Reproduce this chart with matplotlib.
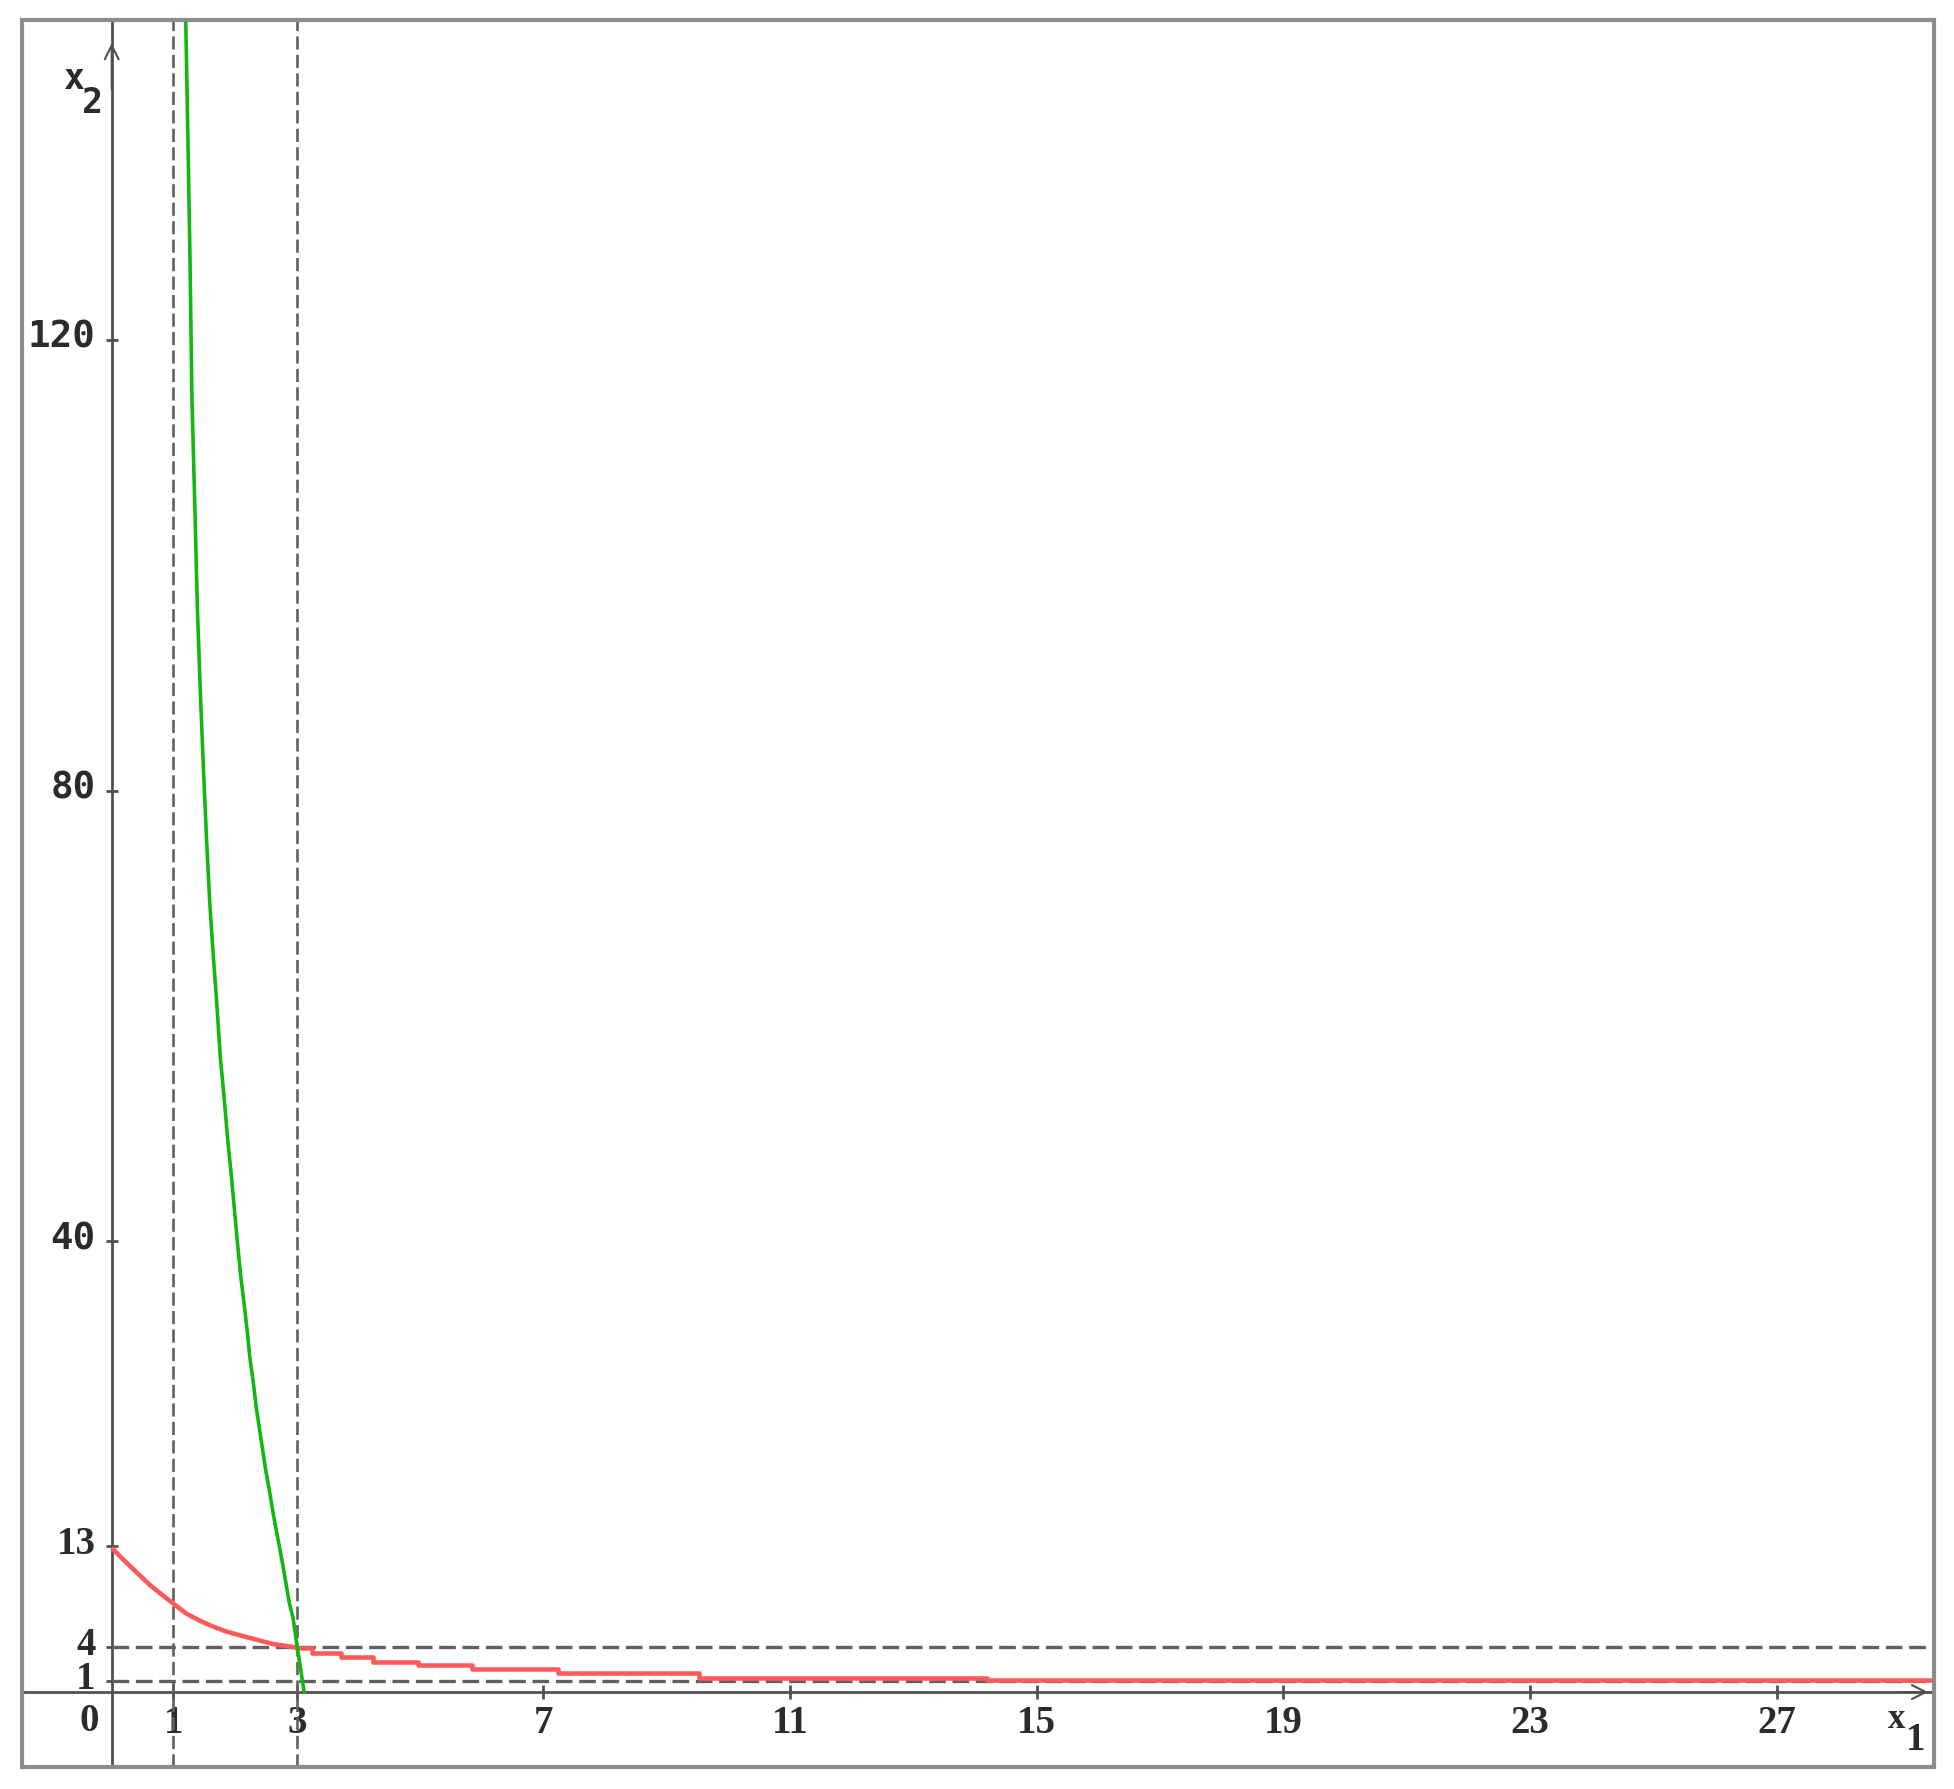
import matplotlib
matplotlib.use('Agg')
import matplotlib.pyplot as plt
import matplotlib.transforms as mtransforms
from matplotlib.patches import Rectangle

# Data
# green curve (steep), x1 vs x2
green_x = [1.20, 1.235, 1.27, 1.30, 1.35, 1.39, 1.44, 1.49, 1.54, 1.59, 1.65, 1.70,
           1.76, 1.82, 1.88, 1.94, 1.99, 2.04, 2.09, 2.15, 2.20, 2.24, 2.30, 2.34,
           2.40, 2.45, 2.50, 2.56, 2.61, 2.67, 2.72, 2.78, 2.83, 2.88, 2.94, 3.00, 3.12]
green_y = [148.4, 138.0, 127.0, 115.0, 104.7, 96.0, 88.3, 81.6, 75.4, 70.0, 65.1, 61.4,
           56.4, 52.9, 49.1, 45.8, 42.8, 39.8, 37.0, 34.3, 31.9, 29.7, 27.3, 25.4,
           23.2, 21.4, 19.6, 17.8, 16.1, 14.3, 12.9, 11.1, 9.5, 7.9, 6.6, 4.3, 0.0]

# red curve, smooth part then pixel staircase
red_x = [0.0, 0.18, 0.35, 0.62, 0.80, 0.99, 1.2, 1.44, 1.65, 1.87, 2.24, 2.62, 3.0]
red_y = [12.8, 11.8, 10.9, 9.5, 8.7, 7.9, 7.0, 6.3, 5.8, 5.35, 4.8, 4.26, 3.95]
red_step_x = [3.0, 3.25, 3.71, 4.23, 4.96, 5.84, 7.24, 9.52, 14.2, 29.6]
red_step_y = [3.88, 3.5, 3.15, 2.7, 2.41, 2.03, 1.68, 1.29, 1.1, 1.1]

x_ticks = [1, 3, 7, 11, 15, 19, 23, 27]
y_ticks_big = [40, 80, 120]
y_ticks_small = [1, 4, 13]
vlines_at = [1, 3]
hlines_at = [1, 4]

W, H = 1954, 1789
fig = plt.figure(figsize=(W / 100, H / 100), dpi=100)
left, right, top, bottom = 22, 1934, 20, 1767
ax = fig.add_axes([left / W, 1 - bottom / H, (right - left) / W, (bottom - top) / H])
ax.set_xlim(-1.455, 29.55)
ax.set_ylim(-6.65, 148.4)

axis_col = '#505050'
text_col = '#2b2b2b'
dash_col = '#606060'

# axes through the origin
for s in ['top', 'right']:
    ax.spines[s].set_visible(False)
ax.spines['left'].set_position(('data', 0))
ax.spines['bottom'].set_position(('data', 0))
for s in ['left', 'bottom']:
    ax.spines[s].set_color(axis_col)
    ax.spines[s].set_linewidth(2.0)
    ax.spines[s].set_zorder(1)

# outer frame
ax.add_patch(Rectangle((0, 0), 1, 1, transform=ax.transAxes, fill=False,
                       ec='#8c8c8c', lw=3.0, clip_on=False, zorder=5))

# dashed guide lines
for v in vlines_at:
    ax.axvline(v, color=dash_col, lw=1.9, ls=(0, (5, 2)), zorder=2)
for h in hlines_at:
    ax.hlines(h, 0, 29.6, color=dash_col, lw=2.4, ls=(0, (5, 2)), zorder=2)

# curves
ax.plot(red_x, red_y, color='#ff5a5a', lw=3.3, zorder=3, solid_capstyle='butt')
ax.plot(red_step_x, red_step_y, color='#ff5a5a', lw=3.3, zorder=3, drawstyle='steps-post')
ax.plot(green_x, green_y, color='#12b812', lw=2.6, zorder=4)

# ticks
ax.set_xticks(x_ticks, labels=[str(t) for t in x_ticks])
ax.tick_params(axis='x', direction='inout', length=10, width=2.0, color=axis_col,
               pad=4, labelcolor=text_col)
for lab in ax.get_xticklabels():
    lab.set_fontfamily('Liberation Serif')
    lab.set_fontweight('bold')
    lab.set_fontsize(28)

yt = y_ticks_small + y_ticks_big
ax.set_yticks(yt, labels=[str(t) for t in yt])
ax.tick_params(axis='y', direction='inout', length=9, width=2.0, color=axis_col,
               pad=7, labelcolor=text_col)
up = mtransforms.ScaledTranslation(0, 6 / 100, fig.dpi_scale_trans)
for lab, t in zip(ax.get_yticklabels(), yt):
    if t in y_ticks_big:
        lab.set_fontfamily('DejaVu Sans Mono')
        lab.set_fontweight('bold')
        lab.set_fontsize(27)
    else:
        lab.set_fontfamily('Liberation Serif')
        lab.set_fontweight('bold')
        lab.set_fontsize(28)
    lab.set_transform(lab.get_transform() + up)

# origin label and axis names
ax.text(-0.36, -2.6, '0', fontsize=28, family='Liberation Serif', weight='bold',
        color=text_col, ha='center', va='center')
ax.text(-0.45, 143.2, 'x', fontsize=25, family='DejaVu Sans Mono', weight='bold',
        color=text_col, ha='right', va='center')
ax.text(-0.15, 141.0, '2', fontsize=25, family='DejaVu Sans Mono', weight='bold',
        color=text_col, ha='right', va='center')
ax.text(28.95, -2.4, 'x', fontsize=25, family='Liberation Serif', weight='bold',
        color=text_col, ha='center', va='center')
ax.text(29.25, -4.3, '1', fontsize=28, family='Liberation Serif', weight='bold',
        color=text_col, ha='center', va='center')

# arrow heads
ax.annotate('', xy=(0, 146.6), xytext=(0, 142.0),
            arrowprops=dict(arrowstyle='->', color=axis_col, lw=1.5, mutation_scale=25))
ax.annotate('', xy=(29.5, 0), xytext=(29.0, 0),
            arrowprops=dict(arrowstyle='->', color=axis_col, lw=1.5, mutation_scale=25))

fig.savefig('out.png', dpi=100)
